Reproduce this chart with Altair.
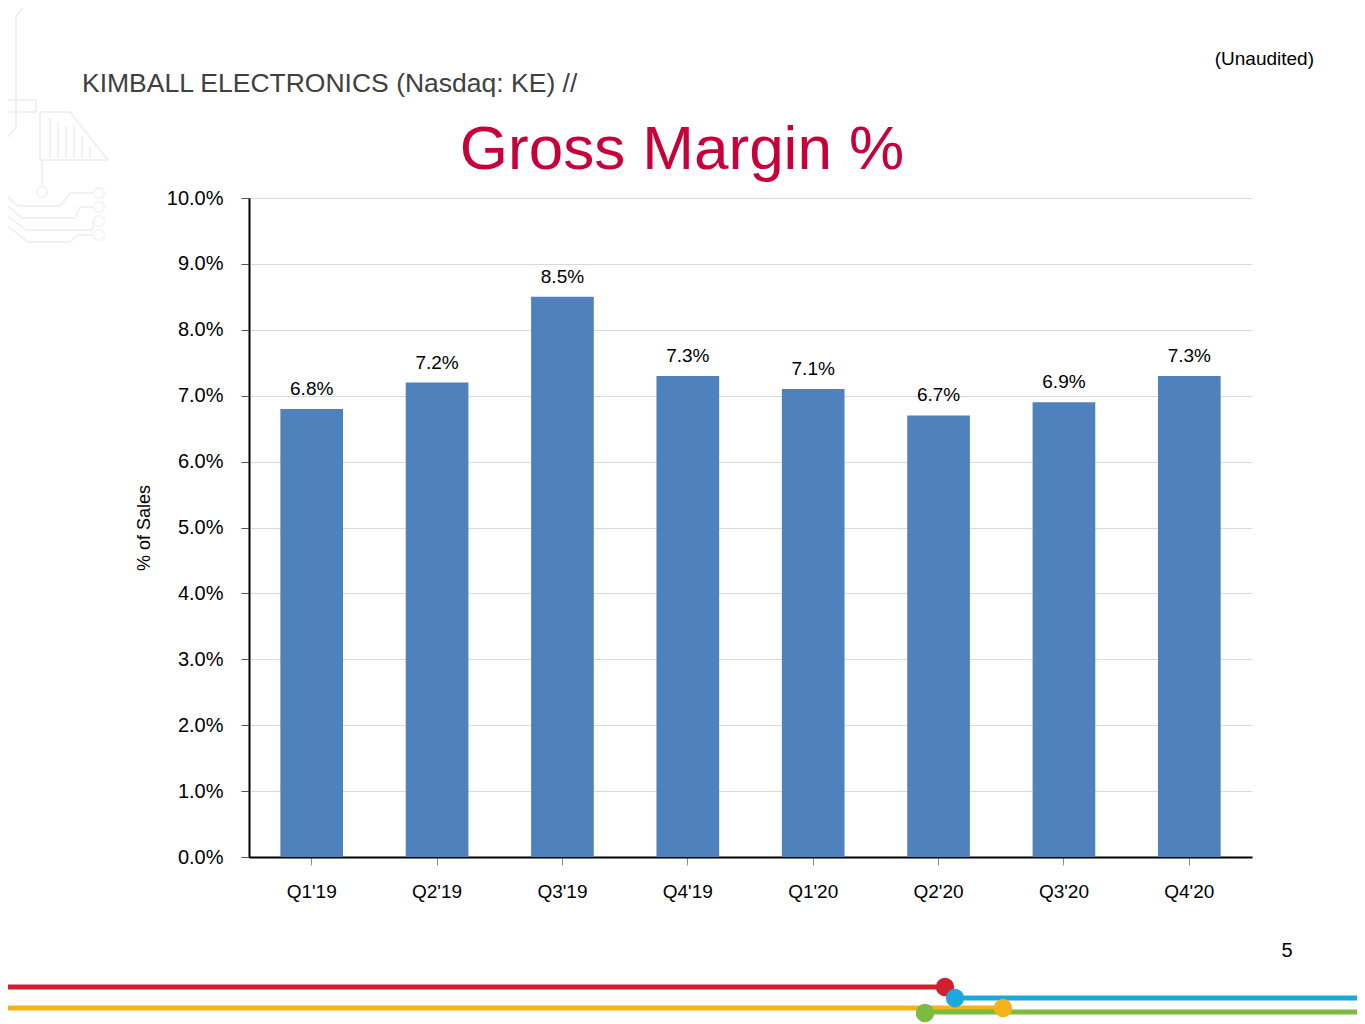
import altair as alt
import pandas as pd

quarters = ["Q1'19", "Q2'19", "Q3'19", "Q4'19", "Q1'20", "Q2'20", "Q3'20", "Q4'20"]
margins = [0.068, 0.072, 0.085, 0.073, 0.071, 0.067, 0.069, 0.073]
y_ticks = [i / 100 for i in range(0, 11)]

df = pd.DataFrame({"quarter": quarters, "margin": margins})
one = pd.DataFrame({"a": [0]})

FONT = "Liberation Sans"
BAR = "#4F81BD"

base = alt.Chart(df)

x_enc = alt.X(
    "quarter:N", sort=quarters, title=None,
    scale=alt.Scale(paddingInner=0.5, paddingOuter=0.25),
    axis=alt.Axis(labelAngle=0, labelFontSize=19, labelFont=FONT, labelColor="#000000",
                  tickSize=8, tickColor="#8c8c8c", tickWidth=1, labelPadding=17,
                  domainColor="#000000", domainWidth=2, grid=False),
)
y_enc = alt.Y(
    "margin:Q", title="% of Sales",
    scale=alt.Scale(domain=[0, 0.1], nice=False),
    axis=alt.Axis(values=y_ticks, format=".1%", labelFontSize=20, labelFont=FONT,
                  labelColor="#000000", tickSize=8, tickColor="#555555", labelPadding=18,
                  domainColor="#000000", domainWidth=2, gridColor="#d9d9d9", gridWidth=1,
                  titleFont=FONT, titleFontSize=18, titleFontWeight="normal",
                  titleColor="#000000", titlePadding=13),
)

bars = base.mark_bar(color=BAR).encode(x=x_enc, y=y_enc)
labels = base.mark_text(font=FONT, fontSize=19, color="#000000", baseline="alphabetic", dy=-14).encode(
    x=alt.X("quarter:N", sort=quarters),
    y="margin:Q",
    text=alt.Text("margin:Q", format=".1%"),
)

def txt(s, x, y, size, color="#000000", align="left", baseline="middle"):
    return alt.Chart(one).mark_text(text=s, font=FONT, fontSize=size, color=color,
                                    align=align, baseline=baseline).encode(
        x=alt.value(x), y=alt.value(y))

title = txt("Gross Margin %", 433, -29, 62, color="#C8003A", align="center", baseline="alphabetic")
company = txt("KIMBALL ELECTRONICS (Nasdaq: KE) //", -167, -114, 26.5, color="#404040")
unaud = txt("(Unaudited)", 1065, -139, 19, align="right")
page = txt("5", 1038, 753, 20, align="center")

def line(x1, x2, y, color, w=5):
    return alt.Chart(one).mark_rule(color=color, strokeWidth=w).encode(
        x=alt.value(x1), x2=alt.value(x2), y=alt.value(y))

def dot(x, y, color):
    return alt.Chart(one).mark_point(filled=True, color=color, size=340, opacity=1,
                                     shape="circle").encode(x=alt.value(x), y=alt.value(y))

RED = "#D0202E"
BLUE = "#1DA7DC"
ORANGE = "#F4B31B"
GREEN = "#7CBB3F"

deco = [
    line(-260, 696, 789, RED),
    line(706, 1112, 800, BLUE),
    line(-260, 754, 810, ORANGE),
    line(676, 1120, 814, GREEN),
    dot(696, 789, RED),
    dot(706, 800, BLUE),
    dot(754, 810, ORANGE),
    dot(676, 815, GREEN),
]

# faint circuit ornament, top-left (page coordinates converted to plot coordinates)
OX, OY = 249, 198
GREY = "#ededed"
segs = [
    (30, 0, 16, 16), (16, 16, 16, 128), (16, 128, 0, 145),
    (0, 100, 36, 100), (36, 100, 36, 112), (0, 112, 36, 112),
    (40, 112, 70, 112), (70, 112, 108, 160), (40, 160, 108, 160), (40, 112, 40, 160),
    (50, 118, 50, 158), (58, 122, 58, 158), (66, 126, 66, 158), (74, 126, 74, 158),
    (82, 136, 82, 158), (90, 146, 90, 158),
    (42, 160, 42, 186),
    (0, 190, 18, 206), (18, 206, 60, 206), (60, 206, 70, 193), (70, 193, 93, 193),
    (0, 200, 22, 218), (22, 218, 75, 218), (75, 218, 80, 207), (80, 207, 93, 207),
    (0, 210, 26, 230), (26, 230, 93, 230), (93, 230, 93, 221),
    (0, 220, 28, 242), (28, 242, 70, 242), (70, 242, 78, 235), (78, 235, 93, 235),
]
circuit = []
for (a, b, c, d) in segs:
    circuit.append(alt.Chart(one).mark_rule(color=GREY, strokeWidth=1.5).encode(
        x=alt.value(a - OX), y=alt.value(b - OY), x2=alt.value(c - OX), y2=alt.value(d - OY)))
for (cx, cy) in [(42, 192), (99, 193), (99, 207), (99, 221), (99, 235)]:
    circuit.append(alt.Chart(one).mark_point(filled=False, color=GREY, size=110, strokeWidth=1.5,
                                             shape="circle").encode(
        x=alt.value(cx - OX), y=alt.value(cy - OY)))

chart = alt.layer(*circuit, bars, labels, title, company, unaud, page, *deco).properties(
    width=1003, height=659,
    autosize=alt.AutoSizeParams(type="none"),
    padding={"left": 241, "top": 190, "right": 105, "bottom": 170},
    background="#ffffff",
).configure_view(stroke=None)

chart.save("out.html", embed_options={"renderer": "svg", "actions": False})
